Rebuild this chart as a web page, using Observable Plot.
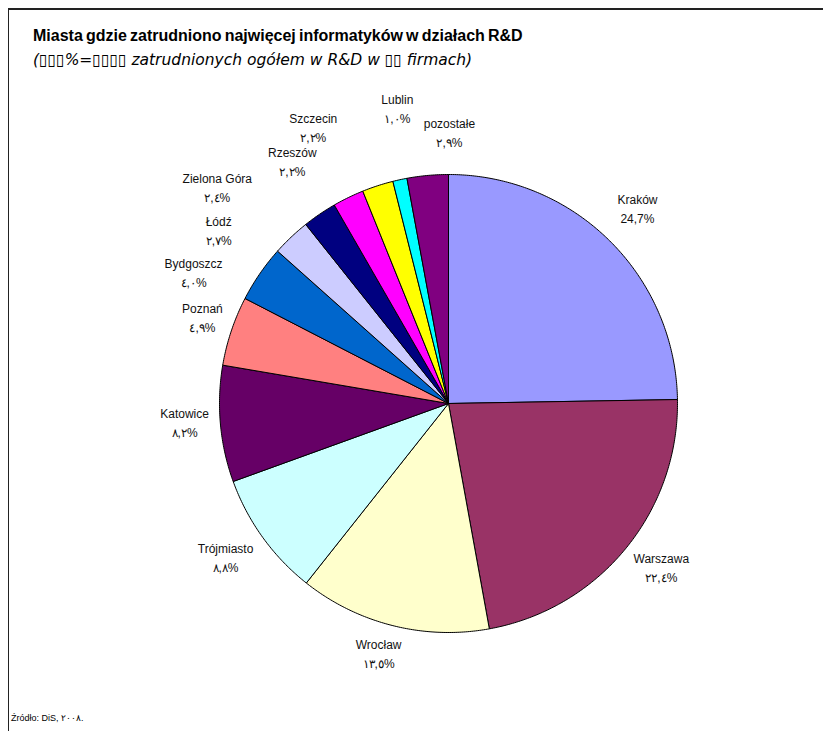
<!DOCTYPE html>
<html>
<head>
<meta charset="utf-8">
<script src="https://cdn.jsdelivr.net/npm/d3@7"></script>
<script src="https://cdn.jsdelivr.net/npm/@observablehq/plot@0.6"></script>
<style>
  body { margin: 0; background: #fff; }
  #frame { position: absolute; left: 8px; top: 8px; width: 900px; height: 800px;
           border-top: 2px solid #222; border-left: 1.5px solid #222; pointer-events: none; }
  #head { position: relative; height: 78px; }
  #title { position: absolute; left: 33px; top: 27px; white-space: nowrap;
           font: bold 16px "Liberation Sans", Arial, sans-serif; letter-spacing: 0px; word-spacing: -1.3px; color: #000; }
  #subtitle { position: absolute; left: 33px; top: 51px; white-space: nowrap;
              font: oblique 15.5px "DejaVu Sans", sans-serif; word-spacing: 0px; color: #000; }
  #chart svg { display: block; }
  #foot { position: relative; height: 23px; }
  #source { position: absolute; left: 11px; top: 5px; white-space: nowrap;
            font: 9px "Liberation Sans", Arial, sans-serif; color: #000; }
</style>
</head>
<body>
<div id="frame"></div>
<div id="head">
  <div id="title">Miasta gdzie zatrudniono najwięcej informatyków w działach R&amp;D</div>
  <div id="subtitle">(▯▯▯%=▯▯▯▯ zatrudnionych ogółem w R&amp;D w ▯▯ firmach)</div>
</div>
<div id="chart"></div>
<div id="foot"><div id="source">Źródło: DiS, ٢٠٠٨.</div></div>
<script>
// ---- data ----
const cities = ["Kraków", "Warszawa", "Wrocław", "Trójmiasto", "Katowice", "Poznań", "Bydgoszcz",
                "Łódź", "Zielona Góra", "Rzeszów", "Szczecin", "Lublin", "pozostałe"];
const shares = [24.7, 22.4, 13.5, 8.8, 8.2, 4.9, 4.0, 2.7, 2.4, 2.2, 2.2, 1.0, 2.9];
const shareLabels = ["24,7%", "٢٢,٤%", "١٣,٥%", "٨,٨%", "٨,٢%", "٤,٩%", "٤,٠%",
                     "٢,٧%", "٢,٤%", "٢,٢%", "٢,٢%", "١,٠%", "٢,٩%"];
const colors = ["#9999FF", "#993366", "#FFFFCC", "#CCFFFF", "#660066", "#FF8080", "#0066CC",
                "#CCCCFF", "#000080", "#FF00FF", "#FFFF00", "#00FFFF", "#800080"];

// ---- layout ----
const W = 823, H = 630;
const R = 229, CX = 448, CY = 325;
// label placement: [angle in degrees clockwise from top, distance in pie radii]
const labelPolar = [[43.9, 1.19], [127.4, 1.17], [195.7, 1.128], [235.6, 1.18], [266.2, 1.155],
                    [289.5, 1.14], [297.4, 1.254], [307.2, 1.26], [313.2, 1.385], [327.3, 1.262],
                    [334.0, 1.347], [350.2, 1.313], [0.2, 1.189]];

const total = d3.sum(shares);
const slicePts = [];
let cum = 0;
shares.forEach((v, i) => {
  const a0 = cum / total * 2 * Math.PI;
  cum += v;
  const a1 = cum / total * 2 * Math.PI;
  const n = Math.max(2, Math.ceil((a1 - a0) / (Math.PI / 360)));
  slicePts.push({city: cities[i], color: colors[i], x: 0, y: 0});
  for (let k = 0; k <= n; k++) {
    const a = a0 + (a1 - a0) * k / n;
    slicePts.push({city: cities[i], color: colors[i], x: Math.sin(a), y: Math.cos(a)});
  }
  slicePts.push({city: cities[i], color: colors[i], x: 0, y: 0});
});

const labels = cities.map((c, i) => {
  const a = labelPolar[i][0] * Math.PI / 180, r = labelPolar[i][1];
  return {text: c + "\n" + shareLabels[i], x: r * Math.sin(a), y: r * Math.cos(a)};
});

const chart = Plot.plot({
  width: W, height: H, margin: 0,
  style: {background: "transparent", overflow: "visible"},
  x: {domain: [-CX / R, (W - CX) / R], axis: null},
  y: {domain: [-(H - CY) / R, CY / R], axis: null},
  marks: [
    Plot.line(slicePts, {x: "x", y: "y", z: "city", fill: "color", stroke: "#000",
                         strokeWidth: 1, strokeLinejoin: "round", curve: "linear"}),
    Plot.text(labels, {x: "x", y: "y", text: "text", fontSize: 12, lineHeight: 19 / 12,
                       fontFamily: "'Liberation Sans', Arial, sans-serif", fill: "#111",
                       textAnchor: "middle"})
  ]
});
document.getElementById("chart").appendChild(chart);
</script>
</body>
</html>
